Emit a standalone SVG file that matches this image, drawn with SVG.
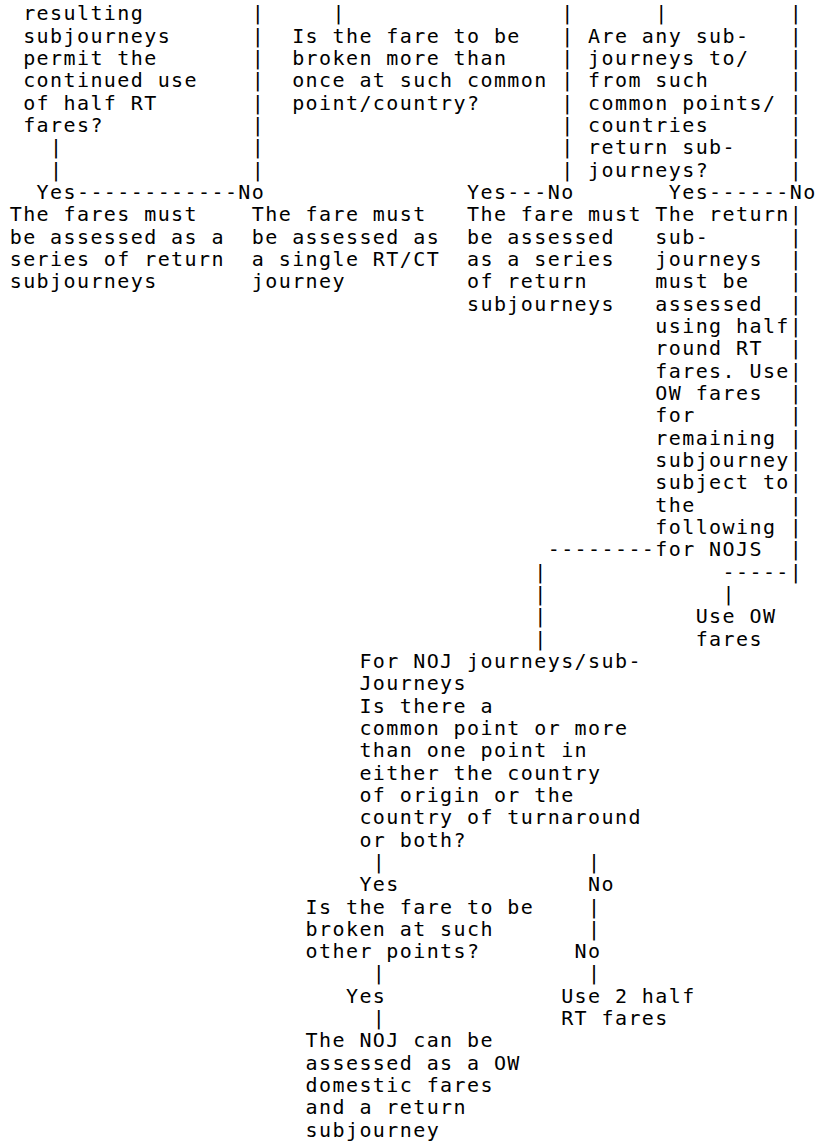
<svg xmlns="http://www.w3.org/2000/svg" width="815" height="1143" viewBox="0 0 815 1143">
<style>
text{font-family:"DejaVu Sans Mono","Liberation Mono",monospace;font-size:20px;letter-spacing:1.41px;fill:#000;}
</style>
<rect x="0" y="0" width="815" height="1143" fill="#fff"/>
<g transform="translate(0.7,0)">
<g id="n1"><text><tspan x="22.45" y="20.3">resulting</tspan><tspan x="22.45" y="42.63">subjourneys</tspan><tspan x="22.45" y="64.96">permit the</tspan><tspan x="22.45" y="87.29">continued use</tspan><tspan x="22.45" y="109.62">of half RT</tspan><tspan x="22.45" y="131.95">fares?</tspan></text></g>
<g id="n2"><text><tspan x="291.45" y="42.63">Is the fare to be</tspan><tspan x="291.45" y="64.96">broken more than</tspan><tspan x="291.45" y="87.29">once at such common</tspan><tspan x="291.45" y="109.62">point/country?</tspan></text></g>
<g id="n3"><text><tspan x="587.35" y="42.63">Are any sub-</tspan><tspan x="587.35" y="64.96">journeys to/</tspan><tspan x="587.35" y="87.29">from such</tspan><tspan x="587.35" y="109.62">common points/</tspan><tspan x="587.35" y="131.95">countries</tspan><tspan x="587.35" y="154.28">return sub-</tspan><tspan x="587.35" y="176.61">journeys?</tspan></text></g>
<g id="n4"><text><tspan x="9" y="221.27">The fares must</tspan><tspan x="9" y="243.6">be assessed as a</tspan><tspan x="9" y="265.93">series of return</tspan><tspan x="9" y="288.26">subjourneys</tspan></text></g>
<g id="n5"><text><tspan x="251.1" y="221.27">The fare must</tspan><tspan x="251.1" y="243.6">be assessed as</tspan><tspan x="251.1" y="265.93">a single RT/CT</tspan><tspan x="251.1" y="288.26">journey</tspan></text></g>
<g id="n6"><text><tspan x="466.3" y="221.27">The fare must</tspan><tspan x="466.3" y="243.6">be assessed</tspan><tspan x="466.3" y="265.93">as a series</tspan><tspan x="466.3" y="288.26">of return</tspan><tspan x="466.3" y="310.59">subjourneys</tspan></text></g>
<g id="n7"><text><tspan x="654.6" y="221.27">The return</tspan><tspan x="654.6" y="243.6">sub-</tspan><tspan x="654.6" y="265.93">journeys</tspan><tspan x="654.6" y="288.26">must be</tspan><tspan x="654.6" y="310.59">assessed</tspan><tspan x="654.6" y="332.92">using half</tspan><tspan x="654.6" y="355.25">round RT</tspan><tspan x="654.6" y="377.58">fares. Use</tspan><tspan x="654.6" y="399.91">OW fares</tspan><tspan x="654.6" y="422.24">for</tspan><tspan x="654.6" y="444.57">remaining</tspan><tspan x="654.6" y="466.9">subjourney</tspan><tspan x="654.6" y="489.23">subject to</tspan><tspan x="654.6" y="511.56">the</tspan><tspan x="654.6" y="533.89">following</tspan><tspan x="654.6" y="556.22">for NOJS</tspan></text></g>
<g id="n8"><text><tspan x="694.95" y="623.21">Use OW</tspan><tspan x="694.95" y="645.54">fares</tspan></text></g>
<g id="n9"><text><tspan x="358.7" y="667.87">For NOJ journeys/sub-</tspan><tspan x="358.7" y="690.2">Journeys</tspan><tspan x="358.7" y="712.53">Is there a</tspan><tspan x="358.7" y="734.86">common point or more</tspan><tspan x="358.7" y="757.19">than one point in</tspan><tspan x="358.7" y="779.52">either the country</tspan><tspan x="358.7" y="801.85">of origin or the</tspan><tspan x="358.7" y="824.18">country of turnaround</tspan><tspan x="358.7" y="846.51">or both?</tspan></text></g>
<g id="n10"><text><tspan x="304.9" y="913.5">Is the fare to be</tspan><tspan x="304.9" y="935.83">broken at such</tspan><tspan x="304.9" y="958.16">other points?</tspan></text></g>
<g id="n11"><text><tspan x="560.45" y="1002.82">Use 2 half</tspan><tspan x="560.45" y="1025.15">RT fares</tspan></text></g>
<g id="n12"><text><tspan x="304.9" y="1047.48">The NOJ can be</tspan><tspan x="304.9" y="1069.81">assessed as a OW</tspan><tspan x="304.9" y="1092.14">domestic fares</tspan><tspan x="304.9" y="1114.47">and a return</tspan><tspan x="304.9" y="1136.8">subjourney</tspan></text></g>
<g id="connectors">
<text><tspan x="251.1" y="20.3">|</tspan><tspan x="251.1" y="42.63">|</tspan><tspan x="251.1" y="64.96">|</tspan><tspan x="251.1" y="87.29">|</tspan><tspan x="251.1" y="109.62">|</tspan><tspan x="251.1" y="131.95">|</tspan><tspan x="251.1" y="154.28">|</tspan><tspan x="251.1" y="176.61">|</tspan></text>
<text x="331.8" y="20.3">|</text>
<text><tspan x="49.35" y="154.28">|</tspan><tspan x="49.35" y="176.61">|</tspan></text>
<text><tspan x="560.45" y="20.3">|</tspan><tspan x="560.45" y="42.63">|</tspan><tspan x="560.45" y="64.96">|</tspan><tspan x="560.45" y="87.29">|</tspan><tspan x="560.45" y="109.62">|</tspan><tspan x="560.45" y="131.95">|</tspan><tspan x="560.45" y="154.28">|</tspan><tspan x="560.45" y="176.61">|</tspan></text>
<text x="654.6" y="20.3">|</text>
<text><tspan x="789.1" y="20.3">|</tspan><tspan x="789.1" y="42.63">|</tspan><tspan x="789.1" y="64.96">|</tspan><tspan x="789.1" y="87.29">|</tspan><tspan x="789.1" y="109.62">|</tspan><tspan x="789.1" y="131.95">|</tspan><tspan x="789.1" y="154.28">|</tspan><tspan x="789.1" y="176.61">|</tspan></text>
<text x="35.9" y="198.94">Yes------------No</text>
<text x="466.3" y="198.94">Yes---No</text>
<text x="668.05" y="198.94">Yes------No</text>
<text><tspan x="789.1" y="221.27">|</tspan><tspan x="789.1" y="243.6">|</tspan><tspan x="789.1" y="265.93">|</tspan><tspan x="789.1" y="288.26">|</tspan><tspan x="789.1" y="310.59">|</tspan><tspan x="789.1" y="332.92">|</tspan><tspan x="789.1" y="355.25">|</tspan><tspan x="789.1" y="377.58">|</tspan><tspan x="789.1" y="399.91">|</tspan><tspan x="789.1" y="422.24">|</tspan><tspan x="789.1" y="444.57">|</tspan><tspan x="789.1" y="466.9">|</tspan><tspan x="789.1" y="489.23">|</tspan><tspan x="789.1" y="511.56">|</tspan><tspan x="789.1" y="533.89">|</tspan><tspan x="789.1" y="556.22">|</tspan><tspan x="789.1" y="578.55">|</tspan></text>
<text x="547" y="556.22">--------</text>
<text x="721.85" y="578.55">-----</text>
<text x="721.85" y="600.88">|</text>
<text><tspan x="533.55" y="578.55">|</tspan><tspan x="533.55" y="600.88">|</tspan><tspan x="533.55" y="623.21">|</tspan><tspan x="533.55" y="645.54">|</tspan></text>
<text x="372.15" y="868.84">|</text>
<text x="358.7" y="891.17">Yes</text>
<text x="372.15" y="980.49">|</text>
<text x="345.25" y="1002.82">Yes</text>
<text x="372.15" y="1025.15">|</text>
<text><tspan x="587.35" y="868.84">|</tspan><tspan x="587.35" y="891.17">No</tspan><tspan x="587.35" y="913.5">|</tspan><tspan x="587.35" y="935.83">|</tspan><tspan x="573.9" y="958.16">No</tspan><tspan x="587.35" y="980.49">|</tspan></text>
</g>
</g>
</svg>
